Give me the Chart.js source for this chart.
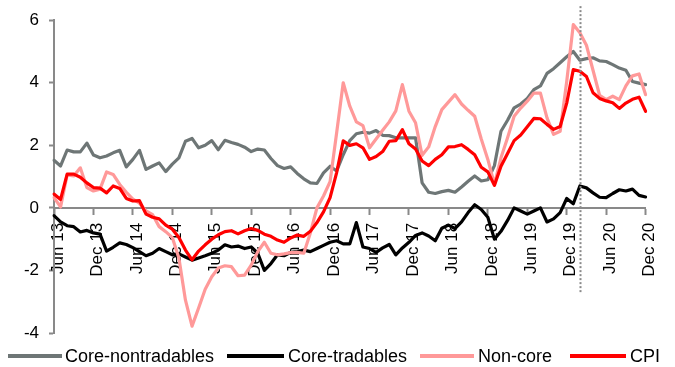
<!DOCTYPE html>
<html>
<head>
<meta charset="utf-8">
<script src="https://cdn.jsdelivr.net/npm/chart.js@4"></script>
<style>
  html, body { margin: 0; padding: 0; background: #fff; }
  #wrap { width: 675px; height: 367px; }
</style>
</head>
<body>
<div id="wrap"><canvas id="chart"></canvas></div>
<script>
// months Jun 13 .. Dec 20
const MONTHS = ["Jan", "Feb", "Mar", "Apr", "May", "Jun", "Jul", "Aug", "Sep", "Oct", "Nov", "Dec"];
const labels = [];
for (let k = 0; k < 91; k++) {
  const m = (5 + k) % 12;
  const y = 13 + Math.floor((5 + k) / 12);
  labels.push(MONTHS[m] + " " + y);
}

const coreNontradables = [
  1.52, 1.34, 1.85, 1.79, 1.79, 2.07, 1.69, 1.6, 1.66, 1.76,
  1.84, 1.31, 1.55, 1.84, 1.23, 1.34, 1.44, 1.16, 1.4, 1.6,
  2.13, 2.22, 1.92, 2.0, 2.15, 1.86, 2.16, 2.09, 2.03, 1.94,
  1.8, 1.88, 1.85, 1.58, 1.35, 1.26, 1.31, 1.1, 0.93, 0.8,
  0.78, 1.12, 1.33, 1.18, 1.7, 2.15, 2.37, 2.42, 2.39, 2.47,
  2.32, 2.31, 2.24, 2.24, 2.24, 2.24, 0.8, 0.5, 0.46, 0.52,
  0.56, 0.5, 0.67, 0.85, 1.02, 0.86, 0.9, 1.35, 2.45, 2.8,
  3.2, 3.32, 3.5, 3.78, 3.9, 4.3, 4.45, 4.64, 4.83, 5.0,
  4.72, 4.77, 4.8, 4.7, 4.68, 4.58, 4.47, 4.4, 4.04, 3.99,
  3.94
];

const coreTradables = [
  -0.25, -0.45, -0.57, -0.6, -0.77, -0.72, -0.8, -0.84, -1.38, -1.26,
  -1.12, -1.17, -1.27, -1.4, -1.53, -1.45, -1.3, -1.4, -1.5, -1.47,
  -1.57, -1.67, -1.6, -1.53, -1.45, -1.35, -1.18, -1.25, -1.22, -1.3,
  -1.25, -1.45, -2.0, -1.78, -1.5, -1.53, -1.42, -1.4, -1.35, -1.4,
  -1.3, -1.2, -1.1, -1.05, -1.15, -1.15, -0.47, -1.25, -1.3, -1.42,
  -1.28, -1.17, -1.5, -1.28, -1.1, -0.88, -0.8, -0.9, -1.05, -0.65,
  -0.55, -0.66, -0.45, -0.15, 0.1, -0.05, -0.3, -1.0, -0.75, -0.4,
  0.0, -0.1, -0.2, -0.1, 0.0, -0.45, -0.35, -0.15, 0.3, 0.13,
  0.7, 0.64, 0.48, 0.34, 0.33, 0.46, 0.58, 0.54, 0.6, 0.4,
  0.35
];

const nonCore = [
  0.33, 0.03, 1.05, 1.02, 1.28, 0.65, 0.54, 0.6, 1.15, 1.07,
  0.75, 0.5, 0.28, 0.15, -0.1, -0.22, -0.6, -0.76, -0.95, -1.6,
  -2.95, -3.78, -3.2, -2.6, -2.2, -1.92, -1.85, -1.88, -2.17, -2.15,
  -1.83, -1.4, -1.1, -1.45, -1.5, -1.47, -1.43, -1.42, -1.45, -0.8,
  0.0, 0.38, 0.84, 2.4, 4.0, 3.25, 2.75, 2.63, 1.92, 2.2,
  2.48, 2.75, 3.1, 3.94, 3.09, 2.72, 1.68, 1.95, 2.6, 3.14,
  3.38, 3.62, 3.32, 3.12, 2.93, 2.2, 1.55, 0.75, 1.6, 2.24,
  2.93, 3.19, 3.41, 3.67, 3.67, 2.88, 2.35, 2.45, 4.04, 5.86,
  5.6, 5.2, 4.4, 3.6, 3.46, 3.57, 3.46, 3.9, 4.22, 4.28,
  3.62
];

const cpi = [
  0.44, 0.27, 1.08, 1.08, 0.98, 0.8, 0.65, 0.63, 0.48, 0.7,
  0.62, 0.3, 0.22, 0.23, -0.2, -0.3, -0.35, -0.55, -0.68, -0.95,
  -1.35, -1.66, -1.38, -1.18, -1.0, -0.86, -0.76, -0.73, -0.83, -0.73,
  -0.66, -0.72, -0.84, -0.91, -1.03, -1.1, -0.96, -0.87, -0.91, -0.75,
  -0.47, -0.13, 0.33, 1.13, 2.14, 2.0, 2.05, 1.92, 1.55, 1.64,
  1.8, 2.13, 2.15, 2.5, 2.05, 1.88, 1.5, 1.35, 1.55, 1.7,
  1.95, 1.96, 2.02, 1.87, 1.7, 1.3, 1.15, 0.72, 1.33, 1.74,
  2.15, 2.33, 2.59, 2.86, 2.85, 2.67, 2.51, 2.6, 3.35, 4.42,
  4.37, 4.2, 3.68, 3.5, 3.42, 3.36, 3.18, 3.35, 3.47, 3.54,
  3.09
];

const yTicks = [-4, -2, 0, 2, 4, 6];
const MARKER_INDEX = 80; // Feb 20, dotted divider

const AXIS_GREY = "#898989";
const FONT = "'Liberation Sans', Arial, sans-serif";

// dotted vertical line
const dividerPlugin = {
  id: "divider",
  afterDatasetsDraw(chart) {
    const x = Math.round(chart.scales.x.getPixelForValue(MARKER_INDEX)) + 0.5;
    const ys = chart.scales.y;
    const ctx = chart.ctx;
    ctx.save();
    ctx.strokeStyle = "#8a8a8a";
    ctx.lineWidth = 2;
    ctx.setLineDash([2, 2]);
    ctx.beginPath();
    ctx.moveTo(x, ys.getPixelForValue(6.45));
    ctx.lineTo(x, ys.getPixelForValue(-2.75));
    ctx.stroke();
    ctx.restore();
  }
};

// legend drawn by hand so it sits where the original one does
const legendSlots = [
  { x0: 8, x1: 62, tx: 65 },
  { x0: 227, x1: 284, tx: 288 },
  { x0: 420, x1: 474, tx: 478 },
  { x0: 570, x1: 626, tx: 630 }
];
const bottomLegend = {
  id: "bottomLegend",
  afterDraw(chart) {
    const ctx = chart.ctx;
    const y = 356;
    ctx.save();
    ctx.font = "18px " + FONT;
    ctx.textBaseline = "middle";
    ctx.fillStyle = "#000";
    chart.data.datasets.forEach((ds, i) => {
      const s = legendSlots[i];
      ctx.strokeStyle = ds.borderColor;
      ctx.lineWidth = 4;
      ctx.beginPath();
      ctx.moveTo(s.x0, y);
      ctx.lineTo(s.x1, y);
      ctx.stroke();
      ctx.fillText(ds.label, s.tx, y + 1);
    });
    ctx.restore();
  }
};

function series(label, data, color, order) {
  return {
    label: label,
    data: data,
    borderColor: color,
    backgroundColor: color,
    borderWidth: 3.2,
    pointRadius: 0,
    tension: 0,
    fill: false,
    borderJoinStyle: "round",
    borderCapStyle: "round",
    order: order
  };
}

new Chart(document.getElementById("chart").getContext("2d"), {
  type: "line",
  data: {
    labels: labels,
    datasets: [
      series("Core-nontradables", coreNontradables, "#6e7676", 4),
      series("Core-tradables", coreTradables, "#000000", 3),
      series("Non-core", nonCore, "#ff9999", 2),
      series("CPI", cpi, "#ff0000", 1)
    ]
  },
  options: {
    responsive: true,
    maintainAspectRatio: false,
    animation: false,
    layout: { padding: { top: 19, right: 22, bottom: 34, left: 0 } },
    plugins: {
      tooltip: { enabled: false },
      legend: { display: false }
    },
    scales: {
      x: {
        position: { y: 0 },
        offset: false,
        grid: {
          drawOnChartArea: false,
          drawTicks: true,
          tickLength: 6,
          tickWidth: 2,
          tickColor: ctx => (ctx.index % 6 === 0 ? AXIS_GREY : "rgba(0,0,0,0)")
        },
        border: { color: AXIS_GREY, width: 2 },
        ticks: {
          autoSkip: false,
          minRotation: 90,
          maxRotation: 90,
          padding: 9,
          labelOffset: 4,
          color: "#000",
          font: { family: FONT, size: 17 },
          callback: function (val, i) {
            return i % 6 === 0 ? this.getLabelForValue(val) : "";
          }
        }
      },
      y: {
        min: -4,
        max: 6,
        afterFit: s => { s.width = 54; },
        afterBuildTicks: s => { s.ticks = yTicks.map(v => ({ value: v })); },
        grid: {
          drawOnChartArea: false,
          drawTicks: true,
          tickLength: 5,
          tickWidth: 2,
          tickColor: AXIS_GREY
        },
        border: { color: AXIS_GREY, width: 2 },
        ticks: {
          padding: 10,
          color: "#000",
          font: { family: FONT, size: 17 }
        }
      }
    }
  },
  plugins: [dividerPlugin, bottomLegend]
});
</script>
</body>
</html>
